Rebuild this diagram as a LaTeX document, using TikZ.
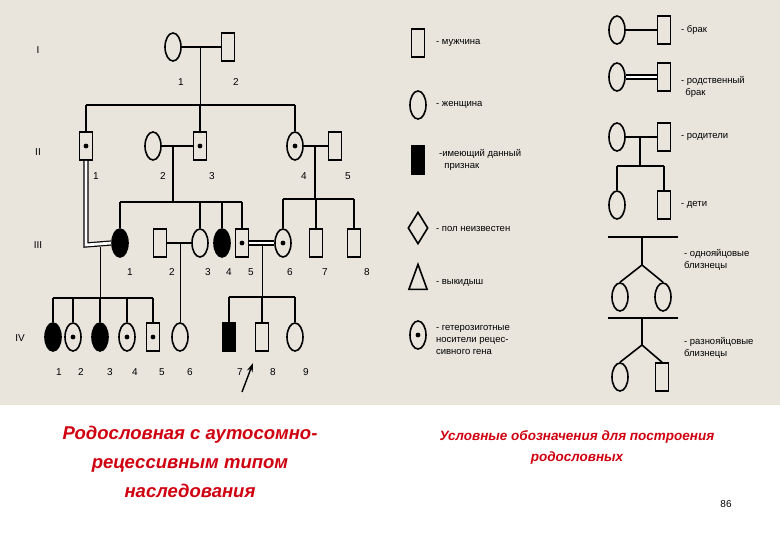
\documentclass[tikz,border=0pt]{standalone}
\usepackage{fontspec}
\setmainfont{Liberation Sans}
\usetikzlibrary{shapes.geometric,arrows.meta}
\definecolor{bg}{HTML}{E9E5DD}
\definecolor{capred}{HTML}{D00010}
\begin{document}
\begin{tikzpicture}[x=1pt,y=-1pt,line width=1.6pt,
 male/.style={draw,rectangle,inner sep=0,minimum width=13pt,minimum height=28pt},
 fem/.style={draw,ellipse,inner sep=0,minimum width=16pt,minimum height=28pt},
 aff/.style={fill=black},
 car/.style={path picture={\fill (path picture bounding box.center) circle (2.4pt);}},
 num/.style={font=\fontsize{10}{11}\selectfont},
 lg/.style={font=\fontsize{9.5}{12}\selectfont,anchor=west,align=left},
 dbl/.style={double,double distance=2.8pt,line width=1.2pt}]
\useasboundingbox (0,0) rectangle (780,540);
\fill[white] (0,0) rectangle (780,540);
\fill[bg] (0,0) rectangle (780,405);
% Generation I
\node[fem] (i1) at (173,47) {};
\node[male] (i2) at (228,47) {};
\draw (i1) -- (i2);
\coordinate (m1) at (200,47);
\node[num] at (181,82) {1}; \node[num] at (236,82) {2};
\node[num] at (38,50) {I};
% Generation II
\node[male,car] (ii1) at (86,146) {};
\node[fem] (ii2) at (153,146) {};
\node[male,car] (ii3) at (200,146) {};
\node[fem,car] (ii4) at (295,146) {};
\node[male] (ii5) at (335,146) {};
\draw (ii2) -- (ii3); \draw (ii4) -- (ii5);
\draw[line width=1pt] (m1) -- (200,105);
\draw (86,105) -- (295,105);
\draw (86,105) -- (ii1.north); \draw (200,105) -- (ii3.north); \draw (295,105) -- (ii4.north);
\foreach \t/\x in {1/96,2/163,3/212,4/304,5/348} \node[num] at (\x,176) {\t};
\node[num] at (38,152) {II};
% Generation III
\node[fem,aff] (iii1) at (120,243) {};
\node[male] (iii2) at (160,243) {};
\node[fem] (iii3) at (200,243) {};
\node[fem,aff] (iii4) at (222,243) {};
\node[male,car] (iii5) at (242,243) {};
\node[fem,car] (iii6) at (283,243) {};
\node[male] (iii7) at (316,243) {};
\node[male] (iii8) at (354,243) {};
\draw[dbl] (ii1.south) -- (86,245) -- (iii1.west);
\draw (iii2) -- (iii3);
\draw[dbl] (iii5) -- (iii6);
\draw (173,146) -- (173,202);
\draw (120,202) -- (242,202);
\foreach \n/\x in {iii1/120,iii3/200,iii4/222,iii5/242} \draw (\x,202) -- (\n.north);
\draw (315,146) -- (315,199);
\draw (283,199) -- (354,199);
\foreach \n/\x in {iii6/283,iii7/316,iii8/354} \draw (\x,199) -- (\n.north);
\foreach \t/\x in {1/130,2/172,3/208,4/229,5/251,6/290,7/325,8/367} \node[num] at (\x,272) {\t};
\node[num] at (38,245) {III};
% Generation IV
\node[fem,aff] (iv1) at (53,337) {};
\node[fem,car] (iv2) at (73,337) {};
\node[fem,aff] (iv3) at (100,337) {};
\node[fem,car] (iv4) at (127,337) {};
\node[male,car] (iv5) at (153,337) {};
\node[fem] (iv6) at (180,337) {};
\node[male,aff] (iv7) at (229,337) {};
\node[male] (iv8) at (262,337) {};
\node[fem] (iv9) at (295,337) {};
\draw[line width=1pt] (100,247) -- (100,298);
\draw (53,298) -- (153,298);
\foreach \n/\x in {iv1/53,iv2/73,iv3/100,iv4/127,iv5/153} \draw (\x,298) -- (\n.north);
\draw[line width=1pt] (180,243) -- (iv6.north);
\draw[line width=1pt] (262,245) -- (262,297);
\draw (229,297) -- (295,297);
\foreach \n/\x in {iv7/229,iv8/262,iv9/295} \draw (\x,297) -- (\n.north);
\foreach \t/\x in {1/59,2/81,3/110,4/135,5/162,6/190,7/240,8/273,9/306} \node[num] at (\x,372) {\t};
\node[num] at (20,338) {IV};
\coordinate (arrs) at (242,392);
\coordinate (arre) at (253,363);
\draw[-{Stealth[length=9pt,width=6pt]},line width=1.4pt] (arrs) -- (arre);
% Legend left
\node[male] (lm) at (418,43) {}; \node[lg] at (432,43) {- мужчина};
\node[fem] (lf) at (418,105) {}; \node[lg] at (432,105) {- женщина};
\node[male,aff] (la) at (418,160) {}; \node[lg] at (435,160) {-имеющий данный\\\ \ признак};
\node[draw,diamond,aspect=0.65,inner sep=0,minimum width=20pt,minimum height=32pt] (ld) at (418,228) {};
\node[lg] at (432,229) {- пол неизвестен};
\node[draw,isosceles triangle,shape border rotate=90,isosceles triangle apex angle=40,inner sep=0,minimum height=25pt] (lt) at (418,283) {};
\node[lg] at (432,283) {- выкидыш};
\node[fem,car] (lc) at (418,335) {};
\node[lg] at (432,340) {- гетерозиготные\\носители рецес-\\сивного гена};
% Legend right
\node[fem] (ra1) at (617,30) {}; \node[male] (ra2) at (664,30) {};
\draw (ra1) -- (ra2); \node[lg] at (677,30) {- брак};
\node[fem] (rb1) at (617,77) {}; \node[male] (rb2) at (664,77) {};
\draw[dbl] (rb1) -- (rb2); \node[lg] at (677,87) {- родственный\\\ \,брак};
\node[fem] (rc1) at (617,137) {}; \node[male] (rc2) at (664,137) {};
\draw (rc1) -- (rc2); \node[lg] at (677,137) {- родители};
\node[fem] (rd1) at (617,205) {}; \node[male] (rd2) at (664,205) {};
\draw (640,137) -- (640,166); \draw (617,166) -- (664,166);
\draw (617,166) -- (rd1.north); \draw (664,166) -- (rd2.north);
\node[lg] at (677,205) {- дети};
\draw (608,237) -- (678,237); \draw (642,237) -- (642,265);
\node[fem] (re1) at (620,297) {}; \node[fem] (re2) at (663,297) {};
\draw (642,265) -- (re1.north); \draw (642,265) -- (re2.north);
\node[lg] at (680,260) {- однояйцовые\\близнецы};
\draw (608,318) -- (678,318); \draw (642,318) -- (642,345);
\node[fem] (rf1) at (620,377) {}; \node[male] (rf2) at (662,377) {};
\draw (642,345) -- (rf1.north); \draw (642,345) -- (rf2.north);
\node[lg] at (680,348) {- разнояйцовые\\близнецы};
% Captions
\node[text=capred,font=\bfseries\itshape\fontsize{18.5}{29}\selectfont,align=center] (cap1) at (190,462) {Родословная с аутосомно-\\рецессивным типом\\наследования};
\node[text=capred,font=\bfseries\itshape\fontsize{13.5}{21}\selectfont,align=center] (cap2) at (577,447) {Условные обозначения для построения\\родословных};
\node[font=\fontsize{10}{12}\selectfont] (pg) at (726,504) {86};
\end{tikzpicture}
\end{document}
